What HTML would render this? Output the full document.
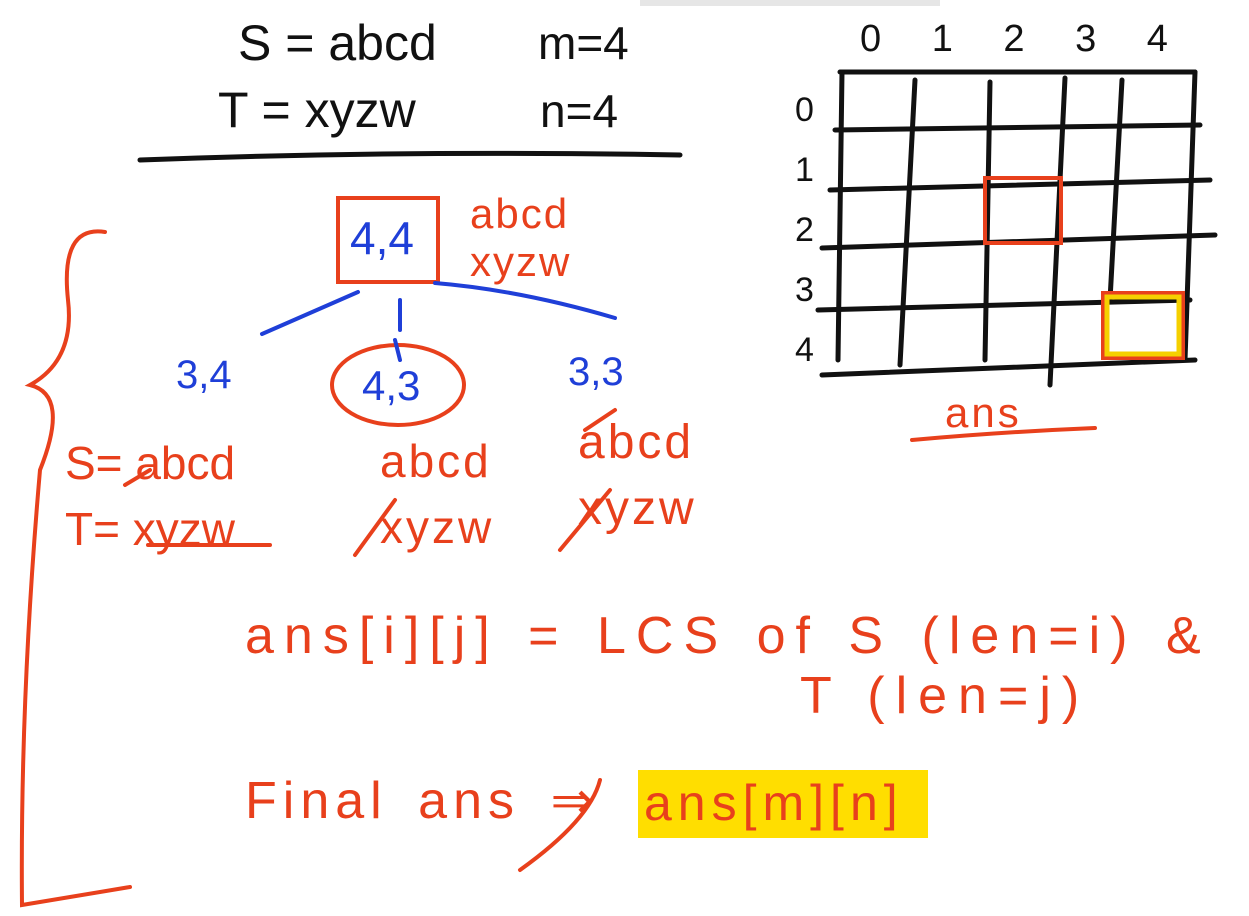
<!DOCTYPE html>
<html><head><meta charset="utf-8"><style>
body{margin:0;background:#fff;width:1249px;height:916px;overflow:hidden;position:relative;font-family:"Liberation Sans",sans-serif}
.t{position:absolute;white-space:nowrap;line-height:1}
.k{color:#111}.r{color:#e8401c}.b{color:#1f3fd8}
</style></head><body>
<div style="position:absolute;left:640px;top:0;width:300px;height:6px;background:#e6e6e6"></div>
<svg width="1249" height="916" style="position:absolute;left:0;top:0" fill="none" stroke-linecap="round">
<path d="M140 160 Q400 150 680 155" stroke="#111" stroke-width="5"/>
<g stroke="#111" stroke-width="5">
<path d="M840 72 L1195 72 M835 130 L1200 125 M830 190 L1210 180 M822 248 L1215 235 M818 310 L1190 300 M822 375 L1195 360"/>
<path d="M842 72 L838 360 M915 80 L900 365 M990 82 L985 360 M1065 78 L1050 385 M1122 80 L1110 300 M1195 72 L1185 360"/>
</g>
<rect x="985" y="178" width="76" height="65" stroke="#e8401c" stroke-width="4"/>
<rect x="1103" y="293" width="80" height="65" stroke="#e8401c" stroke-width="4"/>
<rect x="1107" y="297" width="72" height="57" stroke="#f5d000" stroke-width="5"/>
<path d="M912 440 Q1000 432 1095 428" stroke="#e8401c" stroke-width="4"/>
<rect x="338" y="198" width="100" height="84" stroke="#e8401c" stroke-width="4"/>
<path d="M358 292 L262 334 M400 300 L400 330 M435 283 Q520 290 615 318" stroke="#1f3fd8" stroke-width="4"/>
<ellipse cx="398" cy="385" rx="66" ry="40" stroke="#e8401c" stroke-width="4"/>
<path d="M395 340 L400 360" stroke="#1f3fd8" stroke-width="4"/>
<path d="M105 232 Q60 225 68 300 Q75 360 30 385 Q70 395 40 470 Q20 700 22 905 L130 887" stroke="#e8401c" stroke-width="4"/>
<path d="M150 470 L125 485 M148 545 L270 545 M355 555 L395 500 M560 550 L610 490 M585 430 L615 410" stroke="#e8401c" stroke-width="4"/>
<path d="M520 870 Q590 820 600 780" stroke="#e8401c" stroke-width="4"/>
</svg>
<div class="t k" style="left:238px;top:18px;font-size:50px">S = abcd</div>
<div class="t k" style="left:538px;top:20px;font-size:46px">m=4</div>
<div class="t k" style="left:218px;top:85px;font-size:50px">T = xyzw</div>
<div class="t k" style="left:540px;top:88px;font-size:46px">n=4</div>
<div class="t k" style="left:860px;top:20px;font-size:38px;word-spacing:40px">0 1 2 3 4</div>
<div class="t k" style="left:795px;top:80px;font-size:34px;line-height:60px;white-space:pre">0
1
2
3
4</div>
<div class="t r" style="left:945px;top:392px;font-size:42px;letter-spacing:3px">ans</div>
<div class="t b" style="left:350px;top:215px;font-size:46px">4,4</div>
<div class="t r" style="left:470px;top:190px;font-size:42px;line-height:48px;letter-spacing:2px">abcd<br>xyzw</div>
<div class="t b" style="left:176px;top:355px;font-size:40px">3,4</div>
<div class="t b" style="left:362px;top:365px;font-size:42px">4,3</div>
<div class="t b" style="left:568px;top:352px;font-size:40px">3,3</div>
<div class="t r" style="left:65px;top:430px;font-size:46px;line-height:66px">S= abcd<br>T= xyzw</div>
<div class="t r" style="left:380px;top:428px;font-size:46px;line-height:66px;letter-spacing:3px">abcd<br>xyzw</div>
<div class="t r" style="left:578px;top:410px;font-size:48px;line-height:66px;letter-spacing:3px">abcd<br>xyzw</div>
<div class="t r" style="left:245px;top:610px;font-size:52px;letter-spacing:10px;word-spacing:4px">ans[i][j] = LCS of S (len=i) &amp;</div>
<div class="t r" style="left:800px;top:670px;font-size:52px;letter-spacing:11px">T (len=j)</div>
<div class="t r" style="left:245px;top:775px;font-size:52px;letter-spacing:6px;word-spacing:10px">Final ans ⇒</div>
<div class="t r" style="left:638px;top:770px;width:290px;height:68px;background:#ffde00;font-size:50px;padding:8px 0 0 6px;box-sizing:border-box;letter-spacing:6px">ans[m][n]</div>
</body></html>
